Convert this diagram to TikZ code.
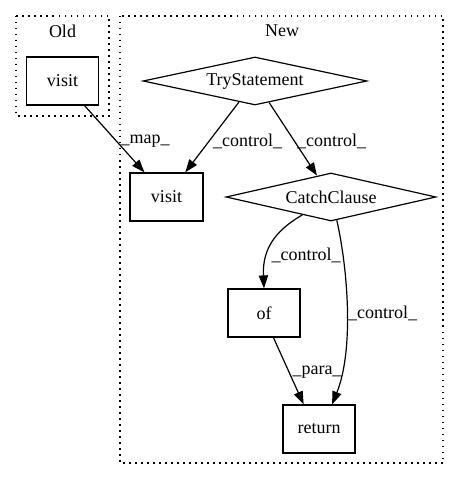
\documentclass[tikz,border=0pt]{standalone}
\usepackage{fontspec}
\setmainfont{Liberation Serif}
\usetikzlibrary{shapes.geometric,arrows.meta}
\begin{document}
\begin{tikzpicture}[x=1bp,y=-1bp,
  txt/.style={font=\fontsize{18bp}{21bp}\selectfont},
  box/.style={txt, draw, line width=1.2bp, minimum width=72bp, minimum height=48bp, inner sep=0pt},
  dia/.style={txt, draw, diamond, line width=1.2bp, inner sep=0pt, minimum height=48bp},
  lbl/.style={txt, inner sep=0pt},
  cluster/.style={line width=1.2bp, dash pattern=on 1.5bp off 4.5bp},
  edge/.style={line width=1.2bp, -{Triangle[length=13bp,width=9.3bp]}}]
\useasboundingbox (0,0) rectangle (461,480);
\draw[cluster] (16,16) rectangle (109,116);
\draw[cluster] (120,16) rectangle (443,463);
\node[lbl] (oldlbl) at (62.5,31) {Old};
\node[lbl] (newlbl) at (282,31) {New};
\node[box] (ov) at (62.5,81) {visit};
\node[dia, aspect=4.67, minimum width=224bp] (ts) at (255,81) {TryStatement};
\node[box, minimum width=73bp] (nv) at (166.5,197) {visit};
\node[dia, aspect=4.375, minimum width=210bp] (cc) at (331,197) {CatchClause};
\node[box] (of) at (264,313) {of};
\node[box] (ret) at (319,429) {return};
\draw[edge] (ov) -- (nv);
\draw[edge] (ts) -- (nv);
\draw[edge] (ts) -- (cc);
\draw[edge] (cc.-148) .. controls (280,228) and (262,245) .. (of.north);
\draw[edge] (cc.-76) .. controls (348,270) and (354,350) .. (ret.62);
\draw[edge] (of.-69) -- (ret.122);
\node[lbl] (l1) at (145,141) {\_map\_};
\node[lbl] (l2) at (247.5,141) {\_control\_};
\node[lbl] (l3) at (331.5,141) {\_control\_};
\node[lbl] (l4) at (306,255) {\_control\_};
\node[lbl] (l5) at (382.5,313) {\_control\_};
\node[lbl] (l6) at (317,372) {\_para\_};
\end{tikzpicture}
\end{document}
